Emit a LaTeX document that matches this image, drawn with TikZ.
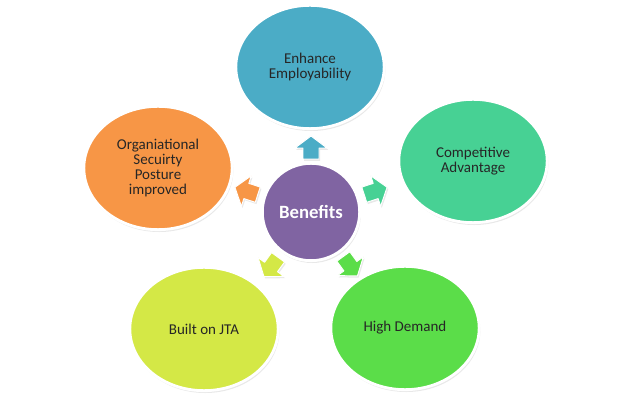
\documentclass[tikz,border=0pt]{standalone}
\usepackage{fontspec}
\setmainfont{Carlito}
\usepackage{tikz}
\usetikzlibrary{shapes.geometric,shadows}
\usepackage{xcolor}
\definecolor{hubpurple}{HTML}{8064A2}
\definecolor{aquablue}{HTML}{4BACC6}
\definecolor{mintgreen}{HTML}{47D194}
\definecolor{leafgreen}{HTML}{5BDD49}
\definecolor{limegreen}{HTML}{D4E846}
\definecolor{orangeaccent}{HTML}{F79646}

\begin{document}
\begin{tikzpicture}[x=0.03cm,y=0.03cm,line join=round,
  benefit/.style={ellipse,draw=white,line width=2.4pt,minimum width=4.45cm,minimum height=3.7cm,
    align=center,text=black!85,font=\fontsize{12.8}{13}\selectfont,
    drop shadow={shadow xshift=1pt,shadow yshift=-2pt,opacity=0.18}},
  hub/.style={circle,draw=white,line width=2.4pt,minimum size=2.92cm,fill=hubpurple,text=white,
    font=\fontsize{16}{18}\selectfont\bfseries,
    drop shadow={shadow xshift=1pt,shadow yshift=-2pt,opacity=0.18}},
  pointer/.style={draw=white,line width=0.8pt,
    drop shadow={shadow xshift=1pt,shadow yshift=-1.5pt,opacity=0.18}}]
\useasboundingbox (0,0) rectangle (623,400);
\node[benefit,fill=aquablue] (employ) at (310,333) {Enhance\\Employability};
\node[benefit,fill=mintgreen] (compete) at (473,239) {Competitive\\Advantage};
\node[benefit,fill=leafgreen] (demand) at (405,72) {High Demand};
\node[benefit,fill=limegreen] (jta) at (204,71) {Built on JTA};
\node[benefit,fill=orangeaccent] (posture) at (158,232) {Organiational\\Secuirty\\Posture\\improved};
\node[hub] (hub) at (311,188) {Benefits};
\path[pointer,fill=aquablue,shift={(hub.center)},rotate=90] (53,-8) -- (64,-8) -- (64,-16) -- (76,0) -- (64,16) -- (64,8) -- (53,8) -- cycle;
\path[pointer,fill=mintgreen,shift={(hub.center)},rotate=18] (56,-8) -- (68,-8) -- (68,-16) -- (80,0) -- (68,16) -- (68,8) -- (56,8) -- cycle;
\path[pointer,fill=leafgreen,shift={(hub.center)},rotate=-54] (55,-8) -- (67,-8) -- (67,-16) -- (79,0) -- (67,16) -- (67,8) -- (55,8) -- cycle;
\path[pointer,fill=limegreen,shift={(hub.center)},rotate=-126] (56,-8) -- (68,-8) -- (68,-16) -- (80,0) -- (68,16) -- (68,8) -- (56,8) -- cycle;
\path[pointer,fill=orangeaccent,shift={(hub.center)},rotate=162] (56,-8) -- (68,-8) -- (68,-16) -- (80,0) -- (68,16) -- (68,8) -- (56,8) -- cycle;
\end{tikzpicture}
\end{document}
